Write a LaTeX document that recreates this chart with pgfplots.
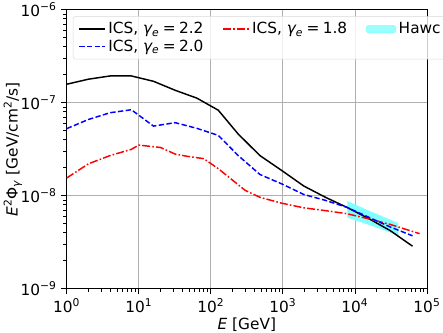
\documentclass[border=0pt]{standalone}
\usepackage{fontspec}
\setmainfont{DejaVu Sans}
\usepackage{pgfplots}
\pgfplotsset{compat=1.18}

\definecolor{gridgray}{RGB}{176,176,176}
\definecolor{hawc}{RGB}{128,255,255}
\newcommand{\ics}[1]{ICS, {\itshape γ}\textsubscript{\itshape e}\hspace{0.22em}=\hspace{0.22em}#1}

\begin{document}
\begin{tikzpicture}
\begin{axis}[
    xmode=log, ymode=log,
    scale only axis,
    width=270pt, height=209pt,
    xmin=1, xmax=1e5,
    ymin=1e-9, ymax=1e-6,
    xtick={1,10,100,1000,10000,100000},
    xticklabels={10\textsuperscript{0},10\textsuperscript{1},10\textsuperscript{2},10\textsuperscript{3},10\textsuperscript{4},10\textsuperscript{5}},
    ytick={1e-9,1e-8,1e-7,1e-6},
    yticklabels={10\textsuperscript{−9},10\textsuperscript{−8},10\textsuperscript{−7},10\textsuperscript{−6}},
    tick label style={font=\fontsize{11.5}{13}\selectfont},
    label style={font=\fontsize{11.5}{13}\selectfont},
    xlabel={{\itshape E} [GeV]},
    ylabel={{\itshape E}\textsuperscript{2}Φ\textsubscript{\itshape γ} [GeV/cm\textsuperscript{2}/s]},
    xlabel style={yshift=3pt},
    ylabel style={yshift=-8pt},
    tick align=outside,
    tick pos=left,
    major tick length=4pt,
    minor tick length=2.5pt,
    tick style={black, line width=0.6pt},
    axis line style={line width=0.6pt},
    xmajorgrids, ymajorgrids,
    grid style={gridgray, line width=0.6pt},
    legend columns=3,
    legend style={at={(0.017,0.977)}, anchor=north west,
        font=\fontsize{11.5}{13}\selectfont,
        draw=gray!30, rounded corners=2pt, fill=white, fill opacity=0.8, text opacity=1,
        /tikz/column 2/.style={column sep=12pt},
        /tikz/column 4/.style={column sep=12pt},
        row sep=-1pt, inner xsep=4pt, inner ysep=2.5pt},
    legend cell align={left},
    legend image code/.code={\draw[#1] (0cm,0cm) -- (0.68cm,0cm);},
]
% Hawc band (drawn first, below the lines)
\addplot[fill=hawc, draw=none, forget plot] coordinates {
(7850,8.75e-9) (17000,6.7e-9) (40000,5.07e-9)
(40000,3.73e-9) (17000,4.75e-9) (7850,5.8e-9)
} --cycle;

% ICS, gamma_e = 2.2
\addplot[black, solid, line width=1.1pt] coordinates {
(1,1.58e-7) (2,1.79e-7) (4,1.94e-7) (7.9,1.94e-7) (16,1.70e-7)
(32,1.36e-7) (64,1.12e-7) (127,8.3e-8) (240,4.6e-8) (480,2.7e-8)
(960,1.87e-8) (1950,1.27e-8) (3900,9.6e-9) (7700,7.5e-9) (16000,5.6e-9)
(31000,4.2e-9) (63000,2.86e-9)
};
\addlegendentry{\ics{2.2}}

% ICS, gamma_e = 1.8
\addplot[color=red, line width=1.1pt, dash pattern=on 6pt off 1.6pt on 1.2pt off 1.6pt] coordinates {
(1,1.55e-8) (2,2.2e-8) (4,2.7e-8) (7.9,3.15e-8) (10,3.5e-8)
(20,3.3e-8) (32,2.8e-8) (47,2.65e-8) (80,2.5e-8) (127,1.95e-8)
(300,1.14e-8) (480,9.6e-9) (960,8.3e-9) (1950,7.4e-9) (3900,6.9e-9)
(7700,6.4e-9) (16000,5.6e-9) (31000,4.9e-9) (79000,3.9e-9)
};
\addlegendentry{\ics{1.8}}

% legend entry for the band
\addlegendimage{legend image code/.code={\fill[hawc] (0cm,-0.1cm) rectangle (0.78cm,0.1cm);}}
\addlegendentry{Hawc}

% ICS, gamma_e = 2.0
\addplot[color=blue, line width=1.1pt, dash pattern=on 4pt off 1.8pt] coordinates {
(1,5.26e-8) (2,6.6e-8) (4,7.8e-8) (7.9,8.4e-8) (16,5.6e-8)
(32,6.1e-8) (64,5.3e-8) (127,4.45e-8) (240,2.7e-8) (480,1.69e-8)
(960,1.34e-8) (1950,1.03e-8) (3900,8.9e-9) (7700,7.5e-9) (16000,5.8e-9)
(31000,4.6e-9) (63000,3.7e-9)
};
\addlegendentry{\ics{2.0}}
\end{axis}
\pgfresetboundingbox
\path ([xshift=-50pt,yshift=-33pt]current axis.south west)
  rectangle ([xshift=12pt,yshift=7.3pt]current axis.north east);
\end{tikzpicture}
\end{document}
